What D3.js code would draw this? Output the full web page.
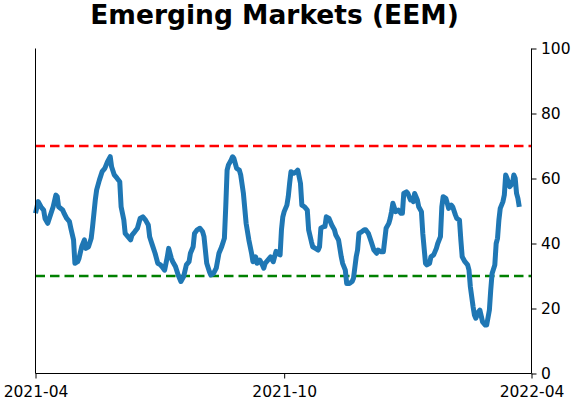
<!DOCTYPE html>
<html>
<head>
<meta charset="utf-8">
<script src="https://cdn.jsdelivr.net/npm/d3@7"></script>
<style>
  body { margin: 0; background: #fff; }
  svg { display: block; font-family: "DejaVu Sans", sans-serif; }
</style>
</head>
<body>
<div id="chart"></div>
<script>
// day offsets from the start date
const startDate = "2021-04-01";
const days = [
  0, 2, 4, 6, 7, 9, 11, 13, 15, 16, 17, 20, 21, 23, 25, 26, 28, 29, 31, 32,
  34, 36, 37, 39, 41, 42, 44, 45, 47, 49, 51, 53, 55, 56, 58, 60, 62, 63, 65, 66,
  68, 70, 71, 73, 75, 77, 79, 81, 83, 84, 86, 88, 90, 92, 93, 95, 97, 98, 100, 101,
  103, 105, 107, 109, 111, 113, 114, 116, 117, 119, 121, 123, 124, 125, 126, 128, 129, 131, 133, 135,
  137, 139, 140, 141, 142, 144, 145, 146, 148, 150, 151, 153, 155, 157, 159, 160, 162, 163, 165, 167,
  168, 169, 171, 173, 175, 177, 178, 180, 181, 182, 183, 185, 186, 187, 188, 190, 192, 193, 195, 196,
  198, 200, 201, 203, 204, 206, 208, 209, 210, 212, 213, 214, 216, 218, 220, 221, 223, 225, 226, 228,
  229, 231, 233, 234, 236, 237, 238, 240, 242, 243, 245, 247, 249, 251, 252, 254, 256, 257, 258, 260,
  261, 262, 263, 265, 267, 269, 270, 271, 273, 274, 276, 277, 278, 279, 281, 282, 284, 285, 287, 288,
  290, 291, 293, 295, 296, 298, 299, 300, 302, 303, 304, 306, 307, 309, 310, 312, 313, 314, 316, 318,
  319, 320, 322, 323, 324, 326, 327, 329, 331, 332, 334, 335, 336, 338, 339, 340, 341, 342, 344, 345,
  346, 347, 349, 351, 352, 353, 354, 355, 356
];
const values = [
  49.3, 52.9, 51.3, 50.3, 47.7, 46.2, 48.8, 51.3, 54.9, 54.4, 51.3, 50.3, 49.3, 47.7, 46.7, 44.7, 41.1, 33.9, 34.4, 35.4,
  39.0, 41.1, 38.5, 39.0, 41.6, 45.2, 53.4, 56.5, 59.5, 62.1, 63.1, 65.2, 66.7, 63.6, 61.1, 60.1, 59.0, 51.3, 47.2, 43.1,
  42.1, 41.1, 42.6, 43.6, 44.7, 47.7, 48.2, 47.2, 45.7, 42.1, 39.5, 37.0, 33.9, 33.4, 32.9, 31.8, 35.9, 38.5, 35.4, 34.4,
  32.9, 30.3, 28.3, 29.8, 33.4, 34.4, 37.0, 39.0, 43.1, 44.2, 44.7, 43.6, 42.1, 38.0, 33.9, 31.3, 30.3, 30.8, 32.4, 37.0,
  39.0, 41.6, 51.3, 62.6, 64.2, 65.7, 66.7, 66.2, 63.1, 62.6, 61.1, 55.4, 46.2, 41.1, 37.0, 34.4, 35.9, 33.9, 34.9, 33.4,
  32.4, 33.9, 34.9, 35.9, 34.4, 37.6, 37.0, 36.5, 44.2, 48.2, 49.8, 51.8, 54.4, 58.5, 62.1, 61.6, 62.1, 62.6, 58.5, 51.8,
  51.3, 50.3, 44.2, 40.6, 39.0, 38.5, 38.0, 39.0, 44.7, 45.2, 45.2, 48.2, 47.7, 45.7, 44.2, 42.6, 41.1, 35.9, 33.9, 31.8,
  27.7, 27.7, 28.3, 29.3, 35.9, 38.0, 43.1, 43.6, 44.2, 44.2, 43.1, 40.6, 38.0, 37.0, 38.0, 37.5, 37.5, 41.1, 44.7, 46.2,
  47.7, 49.8, 52.4, 49.8, 50.3, 49.3, 49.3, 55.4, 55.9, 55.4, 53.4, 53.9, 52.9, 55.4, 53.4, 51.3, 49.8, 43.1, 33.9, 33.4,
  33.9, 35.9, 36.5, 38.5, 40.0, 42.1, 51.3, 54.4, 53.9, 52.4, 50.8, 51.8, 51.3, 48.8, 47.7, 47.2, 41.1, 35.9, 34.4, 33.4,
  31.8, 26.7, 20.6, 18.0, 17.0, 19.0, 19.5, 15.9, 14.9, 14.9, 19.5, 25.7, 30.8, 33.4, 40.0, 41.6, 47.2, 50.8, 52.9, 54.9,
  61.1, 60.1, 57.5, 58.5, 61.1, 60.1, 55.4, 53.9, 51.3
];
const xTickLabels = ["2021-04", "2021-10", "2022-04"];
const yTicks = [0, 20, 40, 60, 80, 100];
const upperLevel = 70;
const lowerLevel = 30;
const titleText = "Emerging Markets (EEM)";

const W = 571, H = 402;
const margin = { top: 48.5, right: 39.5, bottom: 28.5, left: 35.5 };
const innerW = W - margin.left - margin.right;
const innerH = H - margin.top - margin.bottom;

const parse = d3.timeParse("%Y-%m-%d");
const parseMonth = d3.timeParse("%Y-%m");
const start = parse(startDate);
const series = days.map((d, i) => ({ date: d3.timeDay.offset(start, d), value: values[i] }));

const x = d3.scaleTime()
  .domain([parseMonth(xTickLabels[0]), parseMonth(xTickLabels[xTickLabels.length - 1])])
  .range([0, innerW]);
const y = d3.scaleLinear().domain([0, 100]).range([innerH, 0]);

const svg = d3.select("#chart").append("svg")
  .attr("width", W).attr("height", H);

svg.append("text")
  .attr("x", 274.5).attr("y", 24)
  .attr("text-anchor", "middle")
  .attr("font-size", 26.5).attr("font-weight", "bold")
  .text(titleText);

const g = svg.append("g").attr("transform", `translate(${margin.left},${margin.top})`);

// threshold lines
[[upperLevel, "#ff0000"], [lowerLevel, "#008000"]].forEach(([lvl, col]) => {
  g.append("line")
    .attr("x1", 0).attr("x2", innerW)
    .attr("y1", y(lvl)).attr("y2", y(lvl))
    .attr("stroke", col).attr("stroke-width", 2.7)
    .attr("stroke-dasharray", "9.5,5");
});

const line = d3.line().x(d => x(d.date)).y(d => y(d.value));
g.append("path").datum(series)
  .attr("fill", "none").attr("stroke", "#1f77b4")
  .attr("stroke-width", 5).attr("stroke-linejoin", "round")
  .attr("stroke-linecap", "butt")
  .attr("d", line);

// axes
const xAxis = g.append("g").attr("transform", `translate(0,${innerH})`)
  .call(d3.axisBottom(x).tickValues(xTickLabels.map(parseMonth))
    .tickFormat(d3.timeFormat("%Y-%m")).tickSize(5).tickPadding(7));
const yAxis = g.append("g").attr("transform", `translate(${innerW},0)`)
  .call(d3.axisRight(y).tickValues(yTicks).tickSize(5).tickPadding(4.5));

[xAxis, yAxis].forEach(a => {
  a.selectAll("text").attr("font-size", 15.5).attr("fill", "#000")
    .attr("font-family", "DejaVu Sans, sans-serif");
  a.selectAll("line").attr("stroke", "#000").attr("stroke-width", 1);
  a.select(".domain").remove();
});

// spines: left, right, bottom
g.append("line").attr("x1", 0).attr("x2", 0).attr("y1", 0).attr("y2", innerH)
  .attr("stroke", "#000").attr("stroke-width", 1);
g.append("line").attr("x1", innerW).attr("x2", innerW).attr("y1", 0).attr("y2", innerH)
  .attr("stroke", "#000").attr("stroke-width", 1);
g.append("line").attr("x1", 0).attr("x2", innerW).attr("y1", innerH).attr("y2", innerH)
  .attr("stroke", "#000").attr("stroke-width", 1);
</script>
</body>
</html>
